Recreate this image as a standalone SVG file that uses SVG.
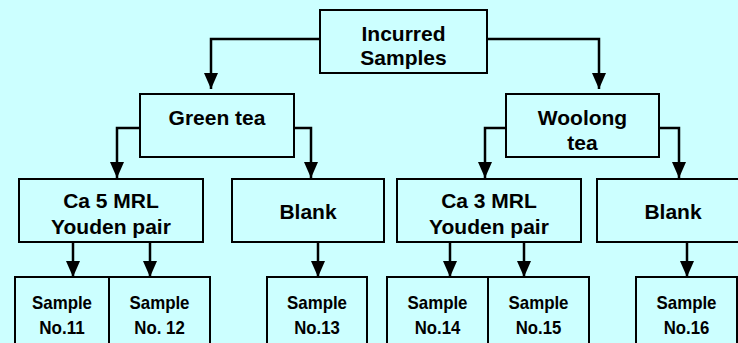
<svg xmlns="http://www.w3.org/2000/svg" width="738" height="343" viewBox="0 0 738 343">
<style>
.box{fill:#CCFFFF;stroke:#000;stroke-width:2}
.lbl{font-family:"Liberation Sans",Arial,sans-serif;font-weight:bold;font-size:21px;fill:#000;text-anchor:middle}
.sm{font-size:18.5px}
.con{fill:none;stroke:#000;stroke-width:2.5;marker-end:url(#ah)}
</style>
<defs>
<marker id="ah" markerUnits="userSpaceOnUse" markerWidth="16" markerHeight="14" viewBox="0 0 16 14" refX="16" refY="7" orient="auto">
<path d="M0,0 L16,7 L0,14 z" fill="#000"/>
</marker>
</defs>
<rect x="0" y="0" width="738" height="343" fill="#CCFFFF"/>
<g id="connectors">
<path class="con" d="M320,39 H211 V89"/>
<path class="con" d="M487,39 H599 V89"/>
<path class="con" d="M140,128 H117 V178"/>
<path class="con" d="M294,128 H311 V178"/>
<path class="con" d="M506,128 H485 V178"/>
<path class="con" d="M659,128 H679 V178"/>
<path class="con" d="M73,243 V277"/>
<path class="con" d="M150,243 V277"/>
<path class="con" d="M318,243 V277"/>
<path class="con" d="M450,243 V277"/>
<path class="con" d="M524,243 V277"/>
<path class="con" d="M687,243 V277"/>
</g>
<g id="incurred"><rect class="box" x="320" y="10" width="167" height="63"/><text class="lbl" x="403.5" y="41">Incurred</text><text class="lbl" x="403.5" y="64.5">Samples</text></g>
<g id="green"><rect class="box" x="140" y="94" width="154" height="63"/><text class="lbl" x="217" y="124.5">Green tea</text></g>
<g id="woolong"><rect class="box" x="506" y="94" width="153" height="63"/><text class="lbl" x="582.5" y="125">Woolong</text><text class="lbl" x="582.5" y="149.5">tea</text></g>
<g id="ca5"><rect class="box" x="19" y="179" width="184" height="63"/><text class="lbl" x="111" y="208">Ca 5 MRL</text><text class="lbl" x="111" y="233.5">Youden pair</text></g>
<g id="blank1"><rect class="box" x="232" y="179" width="152" height="63"/><text class="lbl" x="308" y="218.5">Blank</text></g>
<g id="ca3"><rect class="box" x="397" y="179" width="184" height="63"/><text class="lbl" x="489" y="208">Ca 3 MRL</text><text class="lbl" x="489" y="233.5">Youden pair</text></g>
<g id="blank2"><rect class="box" x="597" y="179" width="152" height="63"/><text class="lbl" x="673" y="218.5">Blank</text></g>
<g id="s11"><rect class="box" x="15" y="277" width="94" height="80"/><text class="lbl sm" x="62" y="308.5" textLength="60" lengthAdjust="spacingAndGlyphs">Sample</text><text class="lbl sm" x="62" y="333.5" textLength="45.5" lengthAdjust="spacingAndGlyphs">No.11</text></g>
<g id="s12"><rect class="box" x="109" y="277" width="101" height="80"/><text class="lbl sm" x="159.5" y="308.5" textLength="60" lengthAdjust="spacingAndGlyphs">Sample</text><text class="lbl sm" x="159.5" y="333.5" textLength="50.5" lengthAdjust="spacingAndGlyphs">No. 12</text></g>
<g id="s13"><rect class="box" x="267" y="277" width="100" height="80"/><text class="lbl sm" x="317" y="308.5" textLength="60" lengthAdjust="spacingAndGlyphs">Sample</text><text class="lbl sm" x="317" y="333.5" textLength="45.5" lengthAdjust="spacingAndGlyphs">No.13</text></g>
<g id="s14"><rect class="box" x="387" y="277" width="101" height="80"/><text class="lbl sm" x="437.5" y="308.5" textLength="60" lengthAdjust="spacingAndGlyphs">Sample</text><text class="lbl sm" x="437.5" y="333.5" textLength="45.5" lengthAdjust="spacingAndGlyphs">No.14</text></g>
<g id="s15"><rect class="box" x="488" y="277" width="101" height="80"/><text class="lbl sm" x="538.5" y="308.5" textLength="60" lengthAdjust="spacingAndGlyphs">Sample</text><text class="lbl sm" x="538.5" y="333.5" textLength="45.5" lengthAdjust="spacingAndGlyphs">No.15</text></g>
<g id="s16"><rect class="box" x="636" y="277" width="101" height="80"/><text class="lbl sm" x="686.5" y="308.5" textLength="60" lengthAdjust="spacingAndGlyphs">Sample</text><text class="lbl sm" x="686.5" y="333.5" textLength="45.5" lengthAdjust="spacingAndGlyphs">No.16</text></g>
</svg>
